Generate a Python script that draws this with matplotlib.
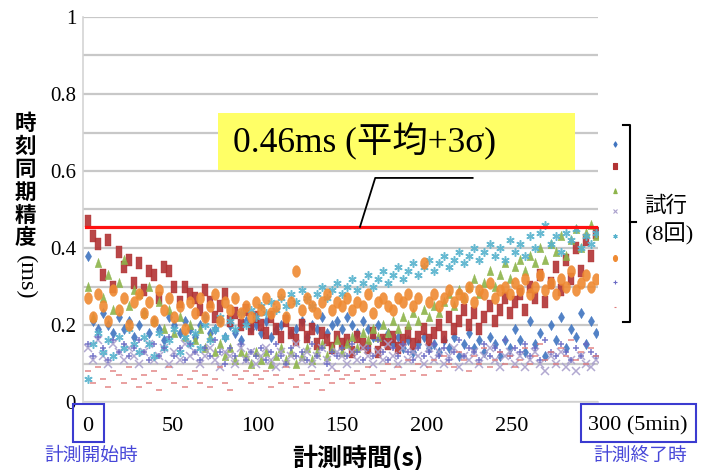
import numpy as np
import matplotlib
matplotlib.use("Agg")
import matplotlib.pyplot as plt
from matplotlib.lines import Line2D
from matplotlib.patches import Rectangle
from matplotlib.path import Path

# measurement time (s), one sample every 3 s
seconds = list(range(0, 301, 3))

trial1 = [0.38, 0.21, 0.19, 0.23, 0.20, 0.18, 0.22, 0.19, 0.21, 0.17,
          0.20, 0.23, 0.18, 0.21, 0.19, 0.16, 0.22, 0.20, 0.18, 0.21, 0.19,
          0.17, 0.20, 0.22, 0.18, 0.19, 0.21, 0.17, 0.20, 0.18, 0.16, 0.21, 0.19, 0.20,
          0.18, 0.21, 0.17, 0.19, 0.20, 0.22, 0.18, 0.19, 0.21, 0.17, 0.20, 0.19, 0.22, 0.18, 0.20, 0.21, 0.19,
          0.22, 0.20, 0.18, 0.21, 0.19, 0.17, 0.20, 0.16, 0.18, 0.15, 0.17, 0.14, 0.16, 0.13, 0.15, 0.17, 0.14,
          0.15, 0.13, 0.16, 0.14, 0.17, 0.12, 0.15, 0.18, 0.14, 0.16, 0.13, 0.17, 0.15, 0.12, 0.16, 0.14, 0.19,
          0.16, 0.13, 0.21, 0.15, 0.18, 0.12, 0.20, 0.16, 0.22, 0.14, 0.19, 0.17, 0.23, 0.15, 0.21, 0.18]
trial2 = [0.47, 0.43, 0.41, 0.33, 0.42, 0.30, 0.39, 0.35, 0.37, 0.31,
          0.36, 0.29, 0.34, 0.33, 0.27, 0.35, 0.34, 0.30, 0.26, 0.30, 0.28,
          0.27, 0.24, 0.29, 0.26, 0.22, 0.25, 0.28, 0.21, 0.23, 0.20, 0.24, 0.19, 0.22,
          0.20, 0.18, 0.22, 0.19, 0.17, 0.21, 0.18, 0.16, 0.20, 0.17, 0.19, 0.15, 0.18, 0.16, 0.14, 0.17, 0.15,
          0.16, 0.13, 0.17, 0.15, 0.14, 0.18, 0.13, 0.16, 0.15, 0.17, 0.14, 0.16, 0.18, 0.15, 0.17, 0.19, 0.16,
          0.18, 0.20, 0.17, 0.22, 0.19, 0.21, 0.24, 0.20, 0.23, 0.19, 0.22, 0.25, 0.21, 0.24, 0.27, 0.23, 0.26,
          0.28, 0.24, 0.30, 0.27, 0.33, 0.26, 0.31, 0.35, 0.29, 0.37, 0.32, 0.40, 0.34, 0.42, 0.38, 0.44]
trial3 = [0.30, 0.22, 0.36, 0.27, 0.33, 0.24, 0.31, 0.37, 0.25, 0.29,
          0.28, 0.23, 0.30, 0.21, 0.26, 0.19, 0.24, 0.18, 0.22, 0.17, 0.20,
          0.16, 0.19, 0.14, 0.17, 0.13, 0.15, 0.12, 0.14, 0.11, 0.13, 0.12, 0.10, 0.13,
          0.11, 0.13, 0.10, 0.12, 0.14, 0.11, 0.13, 0.10, 0.12, 0.14, 0.11, 0.13, 0.15, 0.12, 0.14, 0.16, 0.13,
          0.15, 0.17, 0.14, 0.18, 0.16, 0.19, 0.17, 0.20, 0.18, 0.21, 0.19, 0.22, 0.20, 0.23, 0.21, 0.24, 0.22,
          0.25, 0.23, 0.26, 0.28, 0.25, 0.29, 0.27, 0.30, 0.32, 0.28, 0.31, 0.34, 0.30, 0.33, 0.36, 0.32, 0.35,
          0.37, 0.34, 0.38, 0.36, 0.40, 0.37, 0.41, 0.39, 0.43, 0.38, 0.42, 0.45, 0.40, 0.44, 0.46, 0.43]
trial4 = [0.14, 0.11, 0.16, 0.12, 0.10, 0.15, 0.13, 0.11, 0.14, 0.12,
          0.10, 0.13, 0.15, 0.11, 0.12, 0.14, 0.10, 0.13, 0.11, 0.15, 0.12,
          0.13, 0.10, 0.12, 0.14, 0.11, 0.09, 0.13, 0.12, 0.10, 0.14, 0.11, 0.13, 0.10,
          0.12, 0.14, 0.11, 0.09, 0.13, 0.10, 0.12, 0.15, 0.11, 0.13, 0.10, 0.12, 0.14, 0.11, 0.09, 0.13, 0.12,
          0.10, 0.13, 0.11, 0.14, 0.12, 0.10, 0.13, 0.11, 0.15, 0.12, 0.10, 0.14, 0.11, 0.13, 0.12, 0.10, 0.14,
          0.11, 0.13, 0.10, 0.12, 0.14, 0.09, 0.12, 0.11, 0.13, 0.10, 0.12, 0.14, 0.11, 0.09, 0.12, 0.13, 0.10,
          0.12, 0.09, 0.11, 0.13, 0.10, 0.08, 0.12, 0.10, 0.13, 0.09, 0.11, 0.08, 0.12, 0.10, 0.09, 0.11]
trial5 = [0.06, 0.15, 0.18, 0.13, 0.16, 0.12, 0.17, 0.14, 0.19, 0.15,
          0.13, 0.17, 0.15, 0.12, 0.18, 0.14, 0.16, 0.19, 0.13, 0.17, 0.15,
          0.18, 0.14, 0.20, 0.16, 0.19, 0.22, 0.17, 0.21, 0.19, 0.23, 0.20, 0.24, 0.22,
          0.25, 0.23, 0.26, 0.24, 0.27, 0.25, 0.28, 0.26, 0.29, 0.27, 0.25, 0.28, 0.30, 0.27, 0.29, 0.31, 0.28,
          0.30, 0.32, 0.29, 0.31, 0.33, 0.30, 0.32, 0.34, 0.31, 0.33, 0.35, 0.32, 0.34, 0.36, 0.33, 0.35, 0.37,
          0.34, 0.36, 0.38, 0.35, 0.37, 0.39, 0.36, 0.38, 0.40, 0.37, 0.39, 0.41, 0.38, 0.40, 0.37, 0.42, 0.39,
          0.41, 0.38, 0.43, 0.40, 0.44, 0.46, 0.41, 0.43, 0.39, 0.44, 0.42, 0.45, 0.40, 0.43, 0.41, 0.44]
trial6 = [0.27, 0.22, 0.28, 0.25, 0.21, 0.29, 0.24, 0.27, 0.20, 0.26,
          0.28, 0.23, 0.26, 0.21, 0.29, 0.24, 0.27, 0.22, 0.25, 0.19, 0.26,
          0.23, 0.27, 0.22, 0.25, 0.28, 0.21, 0.26, 0.24, 0.27, 0.23, 0.25, 0.22, 0.26,
          0.24, 0.27, 0.23, 0.25, 0.28, 0.22, 0.26, 0.34, 0.24, 0.27, 0.25, 0.23, 0.26, 0.28, 0.24, 0.26, 0.25,
          0.27, 0.24, 0.26, 0.25, 0.28, 0.23, 0.26, 0.27, 0.25, 0.24, 0.27, 0.26, 0.28, 0.25, 0.27, 0.36, 0.26,
          0.28, 0.25, 0.27, 0.29, 0.26, 0.28, 0.27, 0.30, 0.26, 0.29, 0.28, 0.31, 0.27, 0.29, 0.30, 0.28, 0.31,
          0.29, 0.32, 0.28, 0.30, 0.33, 0.29, 0.31, 0.28, 0.32, 0.30, 0.34, 0.29, 0.31, 0.33, 0.30, 0.32]
trial7 = [0.15, 0.12, 0.17, 0.14, 0.11, 0.16, 0.13, 0.15, 0.12, 0.14,
          0.16, 0.13, 0.11, 0.15, 0.12, 0.14, 0.17, 0.12, 0.14, 0.11, 0.15,
          0.13, 0.11, 0.14, 0.12, 0.16, 0.13, 0.10, 0.14, 0.12, 0.15, 0.11, 0.13, 0.12,
          0.14, 0.11, 0.13, 0.15, 0.12, 0.10, 0.14, 0.12, 0.13, 0.11, 0.15, 0.12, 0.14, 0.10, 0.13, 0.12, 0.14,
          0.12, 0.15, 0.13, 0.11, 0.14, 0.12, 0.16, 0.13, 0.11, 0.14, 0.12, 0.15, 0.13, 0.11, 0.14, 0.12, 0.13,
          0.15, 0.12, 0.14, 0.11, 0.13, 0.16, 0.12, 0.14, 0.13, 0.11, 0.15, 0.12, 0.14, 0.13, 0.16, 0.12, 0.14,
          0.13, 0.15, 0.12, 0.14, 0.11, 0.16, 0.13, 0.12, 0.15, 0.13, 0.11, 0.14, 0.12, 0.15, 0.13, 0.12]
trial8 = [0.08, 0.05, 0.09, 0.06, 0.04, 0.08, 0.07, 0.05, 0.09, 0.06,
          0.04, 0.07, 0.05, 0.08, 0.03, 0.06, 0.09, 0.05, 0.07, 0.04, 0.06,
          0.08, 0.05, 0.07, 0.04, 0.06, 0.09, 0.05, 0.03, 0.07, 0.06, 0.08, 0.05, 0.07,
          0.06, 0.08, 0.04, 0.07, 0.05, 0.09, 0.06, 0.04, 0.07, 0.05, 0.08, 0.06, 0.03, 0.07, 0.05, 0.08, 0.06,
          0.07, 0.05, 0.08, 0.06, 0.09, 0.07, 0.05, 0.08, 0.10, 0.06, 0.09, 0.07, 0.11, 0.08, 0.10, 0.07, 0.09,
          0.11, 0.08, 0.12, 0.10, 0.09, 0.13, 0.11, 0.08, 0.12, 0.10, 0.14, 0.09, 0.11, 0.13, 0.10, 0.12, 0.09,
          0.11, 0.14, 0.10, 0.12, 0.15, 0.11, 0.13, 0.10, 0.14, 0.12, 0.16, 0.11, 0.13, 0.10, 0.14, 0.12]

threshold = 0.455  # mean + 3 sigma
threshold_label = "0.46ms (平均+3σ)"
x_ticks = [0, 50, 100, 150, 200, 250]
y_ticks = [0, 0.2, 0.4, 0.6, 0.8, 1]
y_tick_labels = ["0", "0.2", "0.4", "0.6", "0.8", "1"]

SERIF = "Liberation Serif"
CJK = "Noto Sans CJK JP"
W, H = 705, 470


def fx(px):
    return px / W


def fy(py):
    return 1 - py / H


def tall(verts):
    return Path(verts + [verts[0]], closed=True)


th = np.linspace(0, 2 * np.pi, 24)
m_diamond = tall([(0, 1), (0.6, 0), (0, -1), (-0.6, 0)])
m_rect = tall([(-0.55, -1), (0.55, -1), (0.55, 1), (-0.55, 1)])
m_tri = tall([(0, 1), (0.65, -0.8), (-0.65, -0.8)])
m_ell = Path(np.column_stack([0.68 * np.cos(th), np.sin(th)]), closed=True)

styles = [
    (trial1, "#3f74c0", m_diamond, 7.5, "full"),
    (trial2, "#b23334", m_rect, 8.5, "full"),
    (trial3, "#8db44a", m_tri, 7.5, "full"),
    (trial4, "#aaa0cc", "x", 5.5, "line"),
    (trial5, "#58b3cd", (6, 2, 0), 6.0, "line"),
    (trial6, "#ef8a32", m_ell, 8.5, "full"),
    (trial7, "#6a6ac4", "+", 5.0, "line"),
    (trial8, "#e07a7a", "_", 4.0, "line"),
]

fig = plt.figure(figsize=(W / 100, H / 100), dpi=100)
ax = fig.add_axes([fx(83), fy(402), fx(598) - fx(83), fy(17) - fy(402)])
ax.set_xlim(-3, 301)
ax.set_ylim(0, 1)

ax.set_yticks(y_ticks)
ax.set_yticklabels(y_tick_labels, fontfamily=SERIF, fontsize=15)
ax.set_yticks(np.arange(0.1, 1.0, 0.2), minor=True)
ax.set_xticks(x_ticks)
ax.set_xticklabels([str(v) for v in x_ticks], fontfamily=SERIF, fontsize=16)
ax.tick_params(axis="both", which="both", length=0)
ax.tick_params(axis="y", pad=5)
ax.tick_params(axis="x", pad=11)
ax.grid(axis="y", which="both", color="#c8c8c8", linewidth=1.6)
ax.set_axisbelow(True)
for side in ("top", "right"):
    ax.spines[side].set_visible(False)
for side in ("left", "bottom"):
    ax.spines[side].set_color("#d4d4d4")
    ax.spines[side].set_linewidth(1.2)

for vals, color, marker, ms, kind in styles:
    if kind == "full":
        ax.plot(seconds, vals, linestyle="none", marker=marker, ms=ms,
                color=color, mec=color, mew=0.3, alpha=0.9)
    else:
        ax.plot(seconds, vals, linestyle="none", marker=marker, ms=ms,
                color=color, mew=1.1, alpha=0.9)

# threshold line and call-out
ax.plot([-1, 300], [threshold, threshold], color="#ff1010", linewidth=2.3, zorder=5)
ax.plot([160.5, 169.5, 227], [threshold, 0.582, 0.582], color="black", linewidth=1.3, zorder=5)
ax.add_patch(Rectangle((76.7, 0.602), 211, 0.148, facecolor="#ffff66", edgecolor="none", zorder=6))
ax.text(85.5, 0.676, threshold_label, family=[SERIF, CJK], fontsize=25.5,
        va="center", ha="left", zorder=7)

# last x label with the minutes note
ax.annotate("300 (5min)", xy=(300, 0), xycoords=("data", "axes fraction"),
            xytext=(-8, -14), textcoords="offset pixels", ha="left", va="top",
            fontfamily=SERIF, fontsize=16)

# blue boxes marking start and end
for x0, x1 in [(73, 104), (581, 696)]:
    fig.patches.append(Rectangle((fx(x0), fy(442)), fx(x1) - fx(x0), fy(404) - fy(442),
                                 transform=fig.transFigure, fill=False,
                                 edgecolor="#3b3bd0", linewidth=1.5))
fig.text(fx(91), fy(455), "計測開始時", family=CJK, fontsize=13.5, color="#4646d8",
         ha="center", va="center")
fig.text(fx(640), fy(455), "計測終了時", family=CJK, fontsize=13.5, color="#4646d8",
         ha="center", va="center")

# axis titles
fig.text(fx(358), fy(458), "計測時間(s)", family=CJK, fontsize=18, fontweight="bold",
         ha="center", va="center")
for i, ch in enumerate("時刻同期精度"):
    fig.text(fx(25), fy(123 + 23 * i), ch, family=CJK, fontsize=15.5, fontweight="bold",
             ha="center", va="center")
fig.text(fx(25), fy(277), "(ms)", family=SERIF, fontsize=17.5, rotation=-90,
         ha="center", va="center")

# trial legend column and bracket
legend_y = [144, 166, 191, 211, 236, 258, 282, 307]
for py, (vals, color, marker, ms, kind) in zip(legend_y, styles):
    fig.add_artist(Line2D([fx(615)], [fy(py)], transform=fig.transFigure,
                          linestyle="none", marker=marker, ms=ms * 0.5,
                          color=color, mec=color, mew=0.8))
fig.add_artist(Line2D([fx(623), fx(630), fx(630), fx(623)], [fy(125), fy(125), fy(322), fy(322)],
                      transform=fig.transFigure, color="black", linewidth=1.5))
fig.add_artist(Line2D([fx(630), fx(636)], [fy(222), fy(222)],
                      transform=fig.transFigure, color="black", linewidth=1.5))
fig.text(fx(666), fy(206), "試行", family=CJK, fontsize=15.5, ha="center", va="center")
fig.text(fx(669), fy(234), "(8回)", family=[SERIF, CJK], fontsize=16, ha="center", va="center")

fig.savefig("out.png", dpi=100, facecolor="white")
